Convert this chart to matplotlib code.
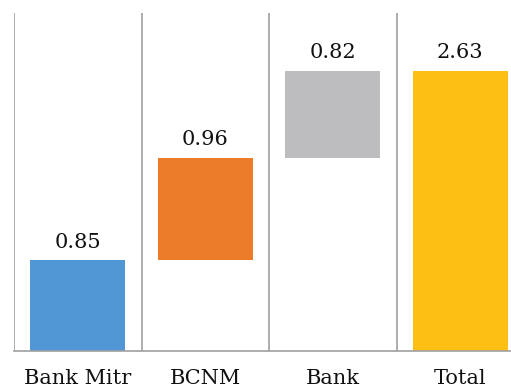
import matplotlib.pyplot as plt

# Datos del gráfico de cascada
categorias = ["Bank Mitr", "BCNM", "Bank", "Total"]
valores = [0.85, 0.96, 0.82, 2.63]
es_total = [False, False, False, True]
colores = ["#5197d5", "#ec7c2a", "#bdbdc0", "#fdbf14"]

# Base de cada barra: acumulado de las anteriores, cero para el total
bases = []
acumulado = 0.0
for v, t in zip(valores, es_total):
    if t:
        bases.append(0.0)
    else:
        bases.append(acumulado)
        acumulado += v

fig = plt.figure(figsize=(5.11, 3.89), dpi=100)
ax = fig.add_axes([14 / 511, 38 / 389, 510 / 511, 338 / 389])

x = list(range(len(categorias)))
ax.bar(x, valores, bottom=bases, width=0.745, color=colores, zorder=2)

for xi, v, b in zip(x, valores, bases):
    ax.text(xi, b + v + 0.08, f"{v:.2f}", ha="center", va="bottom",
            fontsize=15, family="DejaVu Serif", color="#111111")

ax.set_xlim(-0.5, 3.5)
ax.set_ylim(0, 3.17)
ax.set_xticks(x)
ax.set_xticklabels(categorias, fontsize=15, family="DejaVu Serif", color="#111111")
ax.tick_params(axis="x", length=0, pad=13)
ax.set_yticks([])

# Separadores verticales entre categorías
for xs in [-0.5, 0.5, 1.5, 2.5, 3.5]:
    ax.axvline(xs, color="#a0a0a0", linewidth=1.2, zorder=1)

for s in ["top", "right", "left"]:
    ax.spines[s].set_visible(False)
ax.spines["bottom"].set_color("#a0a0a0")
ax.spines["bottom"].set_linewidth(1.2)

plt.savefig("out.png", dpi=100)
